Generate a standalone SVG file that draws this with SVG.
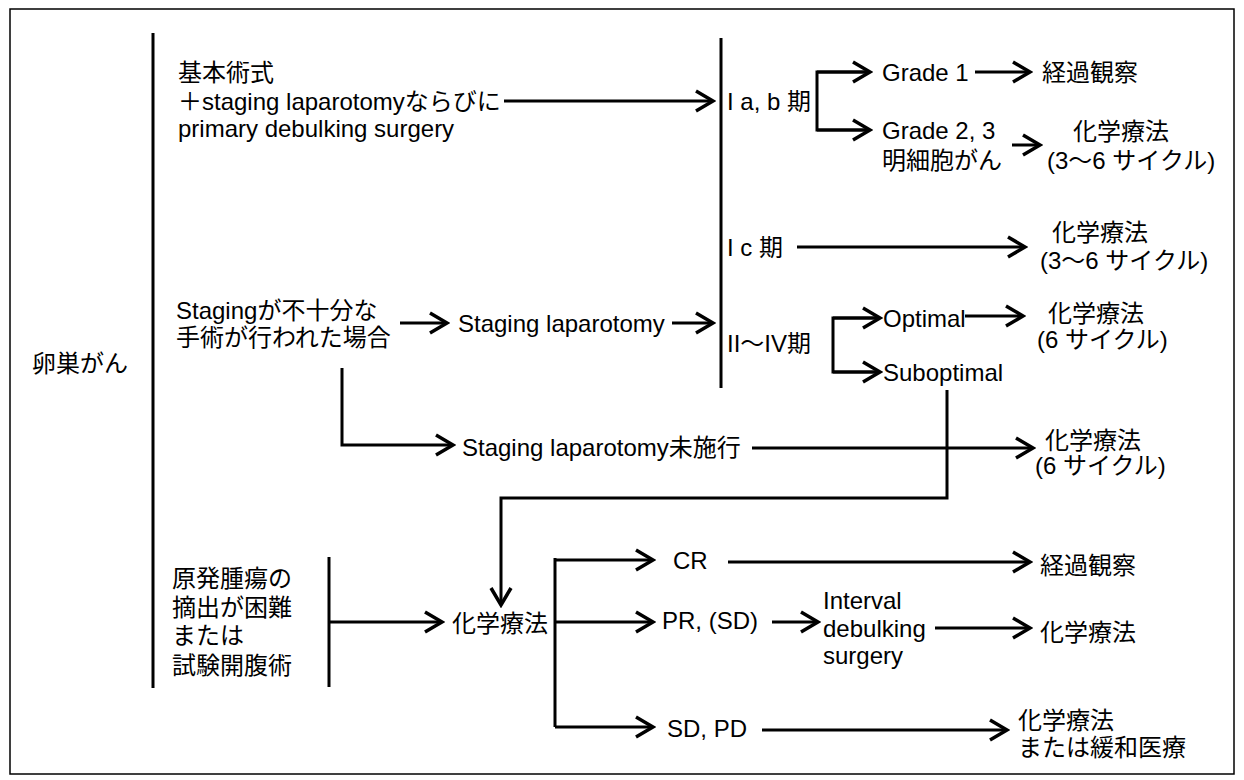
<svg xmlns="http://www.w3.org/2000/svg" width="1244" height="780" viewBox="0 0 1244 780">
<defs>
<style>
.t{font-family:"Liberation Sans","Noto Sans CJK JP",sans-serif;font-size:24px;fill:#000;dominant-baseline:central}
.ln{stroke:#000;stroke-width:3;fill:none}
.ar{stroke:#000;stroke-width:3;fill:none;marker-end:url(#ah)}
.frame{stroke:#000;stroke-width:1.5;fill:#fff}
</style>
<marker id="ah" markerUnits="userSpaceOnUse" markerWidth="24" markerHeight="24" viewBox="0 0 24 24" refX="21" refY="12" orient="auto">
<path d="M4,2 L21,12 L4,22" fill="none" stroke="#000" stroke-width="3.5"/>
</marker>
</defs>
<rect x="0" y="0" width="1244" height="780" fill="#fff"/>
<rect class="frame" x="10" y="9" width="1224" height="765"/>

<g id="connectors">
<line class="ln" x1="153" y1="33" x2="153" y2="688"/>
<line class="ln" x1="721" y1="38" x2="721" y2="388"/>
<line class="ar" x1="504" y1="101" x2="713" y2="101"/>
<polyline class="ln" points="870,72 817,72 817,130 870,130"/>
<line class="ar" x1="817" y1="72" x2="870" y2="72"/>
<line class="ar" x1="817" y1="130" x2="870" y2="130"/>
<line class="ar" x1="975" y1="72" x2="1030" y2="72"/>
<line class="ar" x1="1012" y1="145" x2="1040" y2="145"/>
<line class="ar" x1="797" y1="247" x2="1025" y2="247"/>
<line class="ar" x1="400" y1="323" x2="447" y2="323"/>
<line class="ar" x1="672" y1="323" x2="713" y2="323"/>
<polyline class="ln" points="880,318 833,318 833,372 880,372"/>
<line class="ar" x1="833" y1="318" x2="880" y2="318"/>
<line class="ar" x1="833" y1="372" x2="880" y2="372"/>
<line class="ar" x1="965" y1="316" x2="1023" y2="316"/>
<polyline class="ar" points="947,390 947,498 501,498 501,605"/>
<polyline class="ar" points="342,368 342,445 453,445"/>
<line class="ar" x1="752" y1="448" x2="1033" y2="448"/>
<line class="ln" x1="329" y1="557" x2="329" y2="687"/>
<line class="ar" x1="329" y1="622" x2="442" y2="622"/>
<line class="ln" x1="555" y1="558" x2="555" y2="727"/>
<line class="ar" x1="555" y1="560" x2="653" y2="560"/>
<line class="ar" x1="555" y1="622" x2="653" y2="622"/>
<line class="ar" x1="555" y1="727" x2="653" y2="727"/>
<line class="ar" x1="728" y1="562" x2="1030" y2="562"/>
<line class="ar" x1="772" y1="622" x2="818" y2="622"/>
<line class="ar" x1="935" y1="628" x2="1030" y2="628"/>
<line class="ar" x1="762" y1="730" x2="1007" y2="730"/>
</g>

<g id="n-ovarian"><text class="t" x="32" y="363">卵巣がん</text></g>
<g id="n-basic"><text class="t" x="178" y="72">基本術式</text><text class="t" x="178" y="101">＋staging laparotomyならびに</text><text class="t" x="178" y="128">primary debulking surgery</text></g>
<g id="n-stage-iab"><text class="t" x="727" y="101">I a, b 期</text></g>
<g id="n-grade1"><text class="t" x="882" y="72">Grade 1</text></g>
<g id="n-obs1"><text class="t" x="1042" y="72">経過観察</text></g>
<g id="n-grade23"><text class="t" x="882" y="130">Grade 2, 3</text><text class="t" x="882" y="160">明細胞がん</text></g>
<g id="n-chemo1"><text class="t" x="1073" y="131">化学療法</text><text class="t" x="1047" y="160">(3〜6 サイクル)</text></g>
<g id="n-stage-ic"><text class="t" x="727" y="247">I c 期</text></g>
<g id="n-chemo2"><text class="t" x="1052" y="232">化学療法</text><text class="t" x="1040" y="260">(3〜6 サイクル)</text></g>
<g id="n-insufficient"><text class="t" x="176" y="310">Stagingが不十分な</text><text class="t" x="176" y="337">手術が行われた場合</text></g>
<g id="n-staging"><text class="t" x="458" y="323">Staging laparotomy</text></g>
<g id="n-stage-2-4"><text class="t" x="727" y="343">II〜IV期</text></g>
<g id="n-optimal"><text class="t" x="883" y="318">Optimal</text></g>
<g id="n-chemo3"><text class="t" x="1048" y="313">化学療法</text><text class="t" x="1037" y="339">(6 サイクル)</text></g>
<g id="n-suboptimal"><text class="t" x="883" y="372">Suboptimal</text></g>
<g id="n-not-staged"><text class="t" x="462" y="447">Staging laparotomy未施行</text></g>
<g id="n-chemo4"><text class="t" x="1045" y="440">化学療法</text><text class="t" x="1035" y="465">(6 サイクル)</text></g>
<g id="n-primary"><text class="t" x="172" y="578">原発腫瘍の</text><text class="t" x="172" y="607">摘出が困難</text><text class="t" x="172" y="635">または</text><text class="t" x="172" y="665">試験開腹術</text></g>
<g id="n-chemo-main"><text class="t" x="452" y="623">化学療法</text></g>
<g id="n-cr"><text class="t" x="673" y="560">CR</text></g>
<g id="n-obs2"><text class="t" x="1040" y="565">経過観察</text></g>
<g id="n-pr"><text class="t" x="662" y="620">PR, (SD)</text></g>
<g id="n-ids"><text class="t" x="823" y="600">Interval</text><text class="t" x="823" y="628">debulking</text><text class="t" x="823" y="655">surgery</text></g>
<g id="n-chemo5"><text class="t" x="1040" y="632">化学療法</text></g>
<g id="n-sdpd"><text class="t" x="667" y="728">SD, PD</text></g>
<g id="n-chemo6"><text class="t" x="1018" y="720">化学療法</text><text class="t" x="1018" y="747">または緩和医療</text></g>
</svg>
